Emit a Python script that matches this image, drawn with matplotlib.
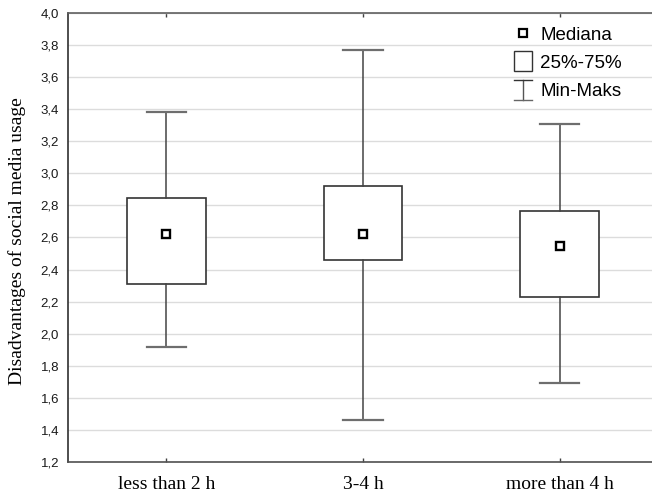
import matplotlib
matplotlib.use("Agg")
import matplotlib.pyplot as plt
from matplotlib.patches import Rectangle
from matplotlib.lines import Line2D
from matplotlib.legend_handler import HandlerBase
from matplotlib.ticker import FuncFormatter, MultipleLocator

# ---- data ----
categories = ["less than 2 h", "3-4 h", "more than 4 h"]
medians = [2.62, 2.62, 2.545]
q1 = [2.31, 2.46, 2.23]
q3 = [2.845, 2.92, 2.765]
mins = [1.92, 1.46, 1.69]
maxs = [3.385, 3.77, 3.31]
ylabel = "Disadvantages of social media usage"
legend_labels = ["Mediana", "25%-75%", "Min-Maks"]

fig = plt.figure(figsize=(6.52, 4.93), dpi=100)
W, H = 652, 493
ax_left, ax_right, ax_top, ax_bottom = 68, 658, 13, 462
ax = fig.add_axes([ax_left / W, 1 - ax_bottom / H, (ax_right - ax_left) / W, (ax_bottom - ax_top) / H])

positions = list(range(len(categories)))
stats = []
for i in positions:
    stats.append(dict(med=medians[i], q1=q1[i], q3=q3[i], whislo=mins[i], whishi=maxs[i], label=categories[i]))

box_col = "#333333"
ax.bxp(stats, positions=positions, widths=0.4, capwidths=0.2, showfliers=False, patch_artist=True,
       boxprops=dict(facecolor="white", edgecolor=box_col, linewidth=1.2),
       whiskerprops=dict(color="#444444", linewidth=1.1),
       capprops=dict(color="#6e6e6e", linewidth=1.6),
       medianprops=dict(linewidth=0), zorder=3)
ax.plot(positions, medians, linestyle="none", marker="s", markersize=6,
        markerfacecolor="white", markeredgecolor="black", markeredgewidth=1.7, zorder=5)

ax.set_xlim(-0.5, 2.5)
ax.set_ylim(1.2, 4.0)
ax.yaxis.set_major_locator(MultipleLocator(0.2))
ax.yaxis.set_major_formatter(FuncFormatter(lambda v, p: f"{v:.1f}".replace(".", ",")))
ax.grid(axis="y", color="#dcdcdc", linewidth=1.0, zorder=0)
ax.set_axisbelow(True)

ax.set_xticks(positions)
ax.set_xticklabels(categories, fontfamily="Liberation Serif", fontsize=14)
ax.tick_params(axis="x", direction="in", top=True, length=3, width=1, color="#404040", pad=10)
ax.tick_params(axis="y", length=0, pad=6.5)
for lab in ax.get_yticklabels():
    lab.set_fontfamily("Liberation Sans")
    lab.set_fontsize(9.5)
    lab.set_color("#1a1a1a")

ax.set_ylabel(ylabel, fontfamily="Liberation Serif", fontsize=14)
ax.yaxis.set_label_coords((26 - ax_left) / (ax_right - ax_left), (ax_bottom - 241) / (ax_bottom - ax_top))

ax.spines["right"].set_visible(False)
ax.spines["left"].set_color("#303030")
ax.spines["bottom"].set_color("#505050")
ax.spines["top"].set_color("#606060")
for s in ["left", "bottom", "top"]:
    ax.spines[s].set_linewidth(1.2)


class HandlerMed(HandlerBase):
    def create_artists(self, legend, orig_handle, xdescent, ydescent, width, height, fontsize, trans):
        l = Line2D([width / 2 - xdescent], [height / 2 - ydescent], marker="s", markersize=5.5,
                   markerfacecolor="white", markeredgecolor="black", markeredgewidth=1.6,
                   linestyle="none", transform=trans)
        return [l]


class HandlerBox(HandlerBase):
    def create_artists(self, legend, orig_handle, xdescent, ydescent, width, height, fontsize, trans):
        h = 14.4
        r = Rectangle((-xdescent, height / 2 - ydescent - h / 2), width, h, facecolor="white",
                      edgecolor=box_col, linewidth=1.0, transform=trans)
        return [r]


class HandlerWhisk(HandlerBase):
    def create_artists(self, legend, orig_handle, xdescent, ydescent, width, height, fontsize, trans):
        h = 14.4
        cy = height / 2 - ydescent
        x0, x1 = -xdescent, width - xdescent
        xc = (x0 + x1) / 2
        a = Line2D([xc, xc], [cy - h / 2, cy + h / 2], color="#555555", linewidth=1.0, transform=trans)
        b = Line2D([x0, x1], [cy + h / 2, cy + h / 2], color="#333333", linewidth=1.0, transform=trans)
        c = Line2D([x0, x1], [cy - h / 2, cy - h / 2], color="#666666", linewidth=1.0, transform=trans)
        return [a, b, c]


class HMed: pass
class HBox: pass
class HWhisk: pass


leg = ax.legend([HMed(), HBox(), HWhisk()], legend_labels,
                handler_map={HMed: HandlerMed(), HBox: HandlerBox(), HWhisk: HandlerWhisk()},
                loc="upper left", bbox_to_anchor=(514 / W, 1 - 26.5 / H), bbox_transform=fig.transFigure,
                frameon=False, borderpad=0, borderaxespad=0, handlelength=0.96, handletextpad=0.43,
                labelspacing=0.6, prop=dict(family="Liberation Sans", size=13.5))

fig.savefig("out.png", dpi=100)
